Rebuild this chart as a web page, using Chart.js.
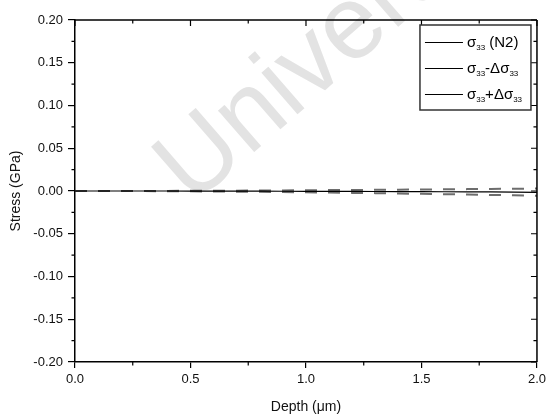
<!DOCTYPE html>
<html>
<head>
<meta charset="utf-8">
<script src="https://cdn.jsdelivr.net/npm/chart.js@4.4.0/dist/chart.umd.min.js"></script>
<style>
  body { margin: 0; background: #fff; }
  #wrap { width: 550px; height: 418px; }
</style>
</head>
<body>
<div id="wrap"><canvas id="stressChart" width="550" height="418"></canvas></div>
<script>
// depth (um)
const depth = [0.0, 0.1, 0.2, 0.3, 0.4, 0.5, 0.6, 0.7, 0.8, 0.9, 1.0,
               1.1, 1.2, 1.3, 1.4, 1.5, 1.6, 1.7, 1.8, 1.9, 2.0];

// stress (GPa)
const sigmaN2 = [0, 0, 0, 0, 0, -0.0001, -0.0001, -0.0002, -0.0002, -0.0003, -0.0004,
                 -0.0005, -0.0005, -0.0006, -0.0007, -0.0008, -0.0009, -0.0010, -0.0011, -0.0013, -0.0015];
const sigmaMinus = [0, 0, 0, -0.0001, -0.0002, -0.0004, -0.0006, -0.0008, -0.0010, -0.0013, -0.0016,
                    -0.0019, -0.0022, -0.0025, -0.0029, -0.0033, -0.0037, -0.0041, -0.0046, -0.0051, -0.0056];
const sigmaPlus = [0, 0, 0, 0, 0.0001, 0.0002, 0.0003, 0.0004, 0.0006, 0.0007, 0.0009,
                   0.0011, 0.0012, 0.0014, 0.0016, 0.0018, 0.0020, 0.0022, 0.0024, 0.0026, 0.0028];

const seriesLabels = ['σ_33 (N2)', 'σ_33-Δσ_33', 'σ_33+Δσ_33'];

const xMajor = [0, 0.5, 1.0, 1.5, 2.0];
const xMinor = [0.25, 0.75, 1.25, 1.75];
const yMajor = [-0.20, -0.15, -0.10, -0.05, 0.00, 0.05, 0.10, 0.15, 0.20];
const yMinor = [-0.175, -0.125, -0.075, -0.025, 0.025, 0.075, 0.125, 0.175];

const FONT = '"Liberation Sans", Arial, sans-serif';

function pts(ys) {
  return depth.map((d, i) => ({ x: d, y: ys[i] }));
}

// faint diagonal watermark behind the plot
const watermark = {
  id: 'watermark',
  beforeDraw(chart) {
    const ctx = chart.ctx;
    ctx.save();
    ctx.translate(192, 206);
    ctx.rotate(-41 * Math.PI / 180);
    ctx.font = '104px ' + FONT;
    ctx.fillStyle = '#e3e3e3';
    ctx.textBaseline = 'alphabetic';
    ctx.fillText('University', 0, 0);
    ctx.restore();
  }
};

// top/right frame plus minor ticks
const frame = {
  id: 'frame',
  afterDraw(chart) {
    const ctx = chart.ctx;
    const a = chart.chartArea;
    const xs = chart.scales.x, ys = chart.scales.y;
    ctx.save();
    ctx.strokeStyle = '#000';
    ctx.lineWidth = 1.5;
    ctx.beginPath();
    ctx.moveTo(a.left, a.top); ctx.lineTo(a.right, a.top);
    ctx.moveTo(a.right, a.top); ctx.lineTo(a.right, a.bottom);
    ctx.stroke();
    ctx.lineWidth = 1.2;
    ctx.beginPath();
    xMajor.forEach(v => {
      const px = xs.getPixelForValue(v);
      ctx.moveTo(px, a.top); ctx.lineTo(px, a.top + 6);
    });
    xMinor.forEach(v => {
      const px = xs.getPixelForValue(v);
      ctx.moveTo(px, a.top); ctx.lineTo(px, a.top + 3.5);
      ctx.moveTo(px, a.bottom); ctx.lineTo(px, a.bottom + 3.5);
    });
    yMajor.forEach(v => {
      const py = ys.getPixelForValue(v);
      ctx.moveTo(a.right, py); ctx.lineTo(a.right - 6, py);
    });
    yMinor.forEach(v => {
      const py = ys.getPixelForValue(v);
      ctx.moveTo(a.right, py); ctx.lineTo(a.right - 3.5, py);
      ctx.moveTo(a.left, py); ctx.lineTo(a.left - 3.5, py);
    });
    ctx.stroke();
    ctx.restore();
  }
};

// draws "_33" parts as subscripts
function drawRich(ctx, text, x, y) {
  const parts = text.split(/(_\d+)/).filter(s => s.length);
  parts.forEach(p => {
    if (p[0] === '_') {
      ctx.font = '8px ' + FONT;
      ctx.fillText(p.slice(1), x, y + 5);
      x += ctx.measureText(p.slice(1)).width;
    } else {
      ctx.font = '15px ' + FONT;
      ctx.fillText(p, x, y);
      x += ctx.measureText(p).width;
    }
  });
}

// boxed legend in the upper right corner of the plot
const boxLegend = {
  id: 'boxLegend',
  afterDraw(chart) {
    const ctx = chart.ctx;
    const a = chart.chartArea;
    const left = a.right - 117, top = a.top + 5, w = 111, h = 85;
    ctx.save();
    ctx.fillStyle = '#fff';
    ctx.fillRect(left, top, w, h);
    ctx.strokeStyle = '#333';
    ctx.lineWidth = 1.5;
    ctx.strokeRect(left, top, w, h);
    ctx.fillStyle = '#000';
    ctx.textBaseline = 'middle';
    chart.data.datasets.forEach((ds, i) => {
      const y = Math.round(top + 17 + i * 26) + 0.5;
      ctx.strokeStyle = '#000';
      ctx.lineWidth = 1;
      ctx.beginPath();
      ctx.moveTo(left + 5, y); ctx.lineTo(left + 43, y);
      ctx.stroke();
      drawRich(ctx, ds.label, left + 47, y);
    });
    ctx.restore();
  }
};

new Chart(document.getElementById('stressChart'), {
  type: 'line',
  data: {
    datasets: [
      {
        label: seriesLabels[0],
        data: pts(sigmaN2),
        borderColor: '#000',
        borderWidth: 1.2,
        pointRadius: 0,
        tension: 0
      },
      {
        label: seriesLabels[1],
        data: pts(sigmaMinus),
        borderColor: 'rgba(60, 60, 60, 0.75)',
        borderWidth: 2,
        borderDash: [12, 11],
        pointRadius: 0,
        tension: 0
      },
      {
        label: seriesLabels[2],
        data: pts(sigmaPlus),
        borderColor: 'rgba(60, 60, 60, 0.75)',
        borderWidth: 2,
        borderDash: [12, 11],
        pointRadius: 0,
        tension: 0
      }
    ]
  },
  options: {
    responsive: false,
    animation: false,
    layout: { padding: { top: 20, right: 13, left: 0, bottom: 0 } },
    plugins: {
      legend: { display: false },
      tooltip: { enabled: false }
    },
    scales: {
      x: {
        type: 'linear',
        min: 0,
        max: 2,
        afterFit: s => { s.height = 56; },
        afterBuildTicks: s => { s.ticks = xMajor.map(v => ({ value: v })); },
        ticks: {
          callback: v => v.toFixed(1),
          font: { family: FONT, size: 13 },
          color: '#111',
          padding: 4,
          maxRotation: 0
        },
        grid: { drawOnChartArea: false, tickLength: 6, color: '#000', lineWidth: 1.2 },
        border: { color: '#000', width: 1.5 },
        title: {
          display: true,
          text: 'Depth (μm)',
          font: { family: FONT, size: 14 },
          color: '#111',
          padding: { top: 0, bottom: 2 }
        }
      },
      y: {
        min: -0.2,
        max: 0.2,
        afterFit: s => { s.width = 75; },
        afterBuildTicks: s => { s.ticks = yMajor.map(v => ({ value: v })); },
        ticks: {
          callback: v => v.toFixed(2),
          font: { family: FONT, size: 13 },
          color: '#111',
          padding: 5
        },
        grid: { drawOnChartArea: false, tickLength: 7, color: '#000', lineWidth: 1.2 },
        border: { color: '#000', width: 1.5 },
        title: {
          display: true,
          text: 'Stress (GPa)',
          font: { family: FONT, size: 14 },
          color: '#111',
          padding: { top: 8, bottom: 0 }
        }
      }
    }
  },
  plugins: [watermark, frame, boxLegend]
});
</script>
</body>
</html>
